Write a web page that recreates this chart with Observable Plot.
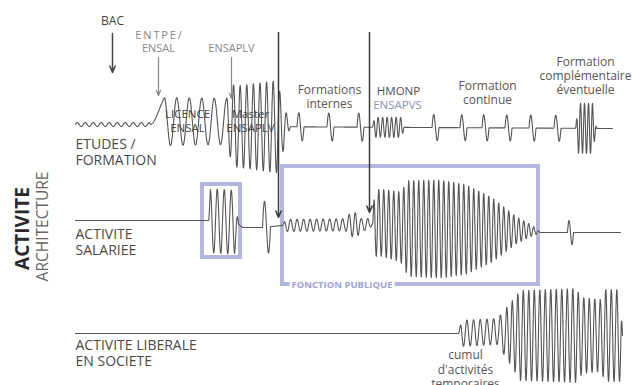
<!DOCTYPE html>
<html><head><meta charset="utf-8">
<script src="https://cdn.jsdelivr.net/npm/d3@7"></script>
<script src="https://cdn.jsdelivr.net/npm/@observablehq/plot@0.6"></script>
<style>body{margin:0;background:#fff}</style>
</head><body><div id="chart"></div>
<script>
// ---- Row titles: [text, x, capTop]
const rowLabels = [
  ["ETUDES /\nFORMATION", 75, 137],
  ["ACTIVITE\nSALARIEE", 75, 227],
  ["ACTIVITE LIBERALE\nEN SOCIETE", 75, 338]
];
// ---- Baselines of the three traces: [x, y]
const baseEtudes   = [[75,124],[150,124],[164,121],[226,121],[236,126],[612,128]];
const baseSalariee = [[75,220],[208,220],[236,222],[242,227],[262,227],[282,225],[370,224],[380,222],[408,228],[530,230],[540,232],[620,232]];
const baseLiberale = [[75,333],[458,333],[497,331],[520,335],[622,335]];
// ---- Oscillation envelopes: [x, amplitude, period]
const envEtudes = [[75,2,8],[149,2,8],[150,0,52],[164,24,12.5],[226,23,7],[232,40,6.6],[276,46,6.6],[290,0,8],
  [372,0,4.5],[374,10,4.5],[401,10,4.5],[404,0,4],[575,0,4],[578,25,4],[592,25,4],[596,0,10],[612,0,10]];
const envSalariee = [[75,0,7],[208,0,7],[210,32,7],[234,32,7],[238,0,10],[282,0,6.5],[285,6,6.5],[345,6,6.5],
  [350,12,6],[357,12,6],[360,6,6.5],[368,6,6.5],[372,0,5],[374,33,5],[400,35,5],[408,48,5],[440,49,5],
  [465,45,5],[492,32,5],[515,14,5],[532,5,5],[540,0,5],[620,0,5]];
const envLiberale = [[75,0,6.7],[458,0,6.7],[461,13,6.7],[497,13,6.7],[505,24,5.5],[520,45,5.5],[575,47,5.5],
  [582,38,5.5],[600,36,5.5],[605,46,5.5],[620,46,5.5],[622,0,5]];
// ---- Isolated spikes: [x, amplitude, width]
const spikesEtudes = [[300,14,7],[330,14,7],[360,14,7],[435,13,7],[463,13,7],[485,13,7],[508,13,7],[532,13,7],[557,13,7]];
const spikesSalariee = [[266,26,8],[570,12,6]];
const spikesLiberale = [];
// ---- Boxes: [x1, x2, y1, y2]
const boxes = [[202,240,184,257],[282,538,166,284]];
const boxLabel = [["FONCTION PUBLIQUE", 291, 284]];
// ---- Arrows: [x, yFrom, yTo]
const bacArrow = [[112,33,72]];
const schoolArrows = [[158,57,95],[231,57,98]];
const longArrows = [[278,32,217],[369,32,212]];
// ---- Annotations: [text, x, capTop]
const bacLabel = [["BAC",112,16]];
const schoolLabels = [["E\u2009N\u2009T\u2009P\u2009E\u2009/\nENSAL",158,29],["ENSAPLV",231,42]];
const stageLabels = [["LICENCE\nENSAL",187,108],["Master\nENSAPLV",250,108]];
const formationLabels = [["Formations\ninternes",329,83],["Formation\ncontinue",487,79],["Formation\ncomplémentaire\néventuelle",585,55]];
const hmonpLabel = [["HMONP",398,86]];
const ensapvsLabel = [["ENSAPVS",397,100]];
const cumulLabel = [["cumul\nd'activités\ntemporaires",465,349]];
const sideTitle = [["ACTIVITE",22,228]];
const sideSub = [["ARCHITECTURE",42.5,226]];

function lerpPts(pts, x) {
  if (x <= pts[0][0]) return pts[0][1];
  for (let i = 0; i < pts.length - 1; i++) {
    const a = pts[i], b = pts[i+1];
    if (x <= b[0]) return a[1] + (b[1]-a[1]) * (x-a[0]) / (b[0]-a[0]);
  }
  return pts[pts.length-1][1];
}
function trace(row, base, env, spikes) {
  const out = [];
  const xa = base[0][0], xb = base[base.length-1][0];
  const step = 0.2;
  let phase = 0, seg = -1;
  for (let x = xa; x <= xb + 1e-9; x += step) {
    let j = -1;
    for (let i = 0; i < env.length - 1; i++) if (x >= env[i][0] && x < env[i+1][0]) { j = i; break; }
    let amp = 0;
    if (j >= 0) {
      if (j !== seg && env[j][1] === 0) phase = 0;
      seg = j;
      const a = env[j], b = env[j+1];
      amp = a[1] + (b[1]-a[1]) * (x-a[0]) / (b[0]-a[0]);
      phase += 2*Math.PI*step / a[2];
    }
    let y = lerpPts(base, x) - amp*Math.sin(phase);
    for (const [xs, A, w] of spikes) {
      if (x > xs - w/2 && x < xs + w/2) y -= A*Math.sin(2*Math.PI*(x - xs + w/2)/w);
    }
    out.push({row, x, y});
  }
  return out;
}
const traces = [
  ...trace("etudes", baseEtudes, envEtudes, spikesEtudes),
  ...trace("salariee", baseSalariee, envSalariee, spikesSalariee),
  ...trace("liberale", baseLiberale, envLiberale, spikesLiberale)
];

const txt = (data, o) => Plot.text(data, {text: d=>d[0], x: d=>d[1], y: d=>d[2], lineAnchor: "top", ...o});
const arr = (data, o) => Plot.arrow(data, {x1: d=>d[0], x2: d=>d[0], y1: d=>d[1], y2: d=>d[2], headLength: 7, headAngle: 45, ...o});

const chart = Plot.plot({
  width: 632, height: 385, margin: 0,
  x: {domain: [0,632], range: [0,632], axis: null},
  y: {domain: [0,385], range: [0,385], axis: null},
  style: {fontFamily: "'Open Sans', sans-serif", background: "#fff"},
  marks: [
    Plot.rect(boxes, {x1: d=>d[0], x2: d=>d[1], y1: d=>d[2], y2: d=>d[3], fill: "none", stroke: "#b3b6df", strokeWidth: 4}),
    Plot.line(traces, {x: "x", y: "y", z: "row", stroke: "#555", strokeWidth: 1.1, curve: "linear"}),
    txt(boxLabel, {textAnchor: "start", lineAnchor: "middle", fontSize: 9.5, fontWeight: "bold", fill: "#9ea3d6", stroke: "#fff", strokeWidth: 5}),
    arr(bacArrow, {stroke: "#444", strokeWidth: 1.5}),
    arr(schoolArrows, {stroke: "#888", strokeWidth: 1.2}),
    arr(longArrows, {stroke: "#3a3a3a", strokeWidth: 1.5}),
    txt(rowLabels, {textAnchor: "start", fontSize: 14, fill: "#4a4a4a", lineHeight: 1.15}),
    txt(bacLabel, {fontSize: 12, fill: "#444"}),
    txt(schoolLabels, {fontSize: 11, fill: "#888", lineHeight: 1.2}),
    txt(stageLabels, {fontSize: 11.5, fill: "#444", lineHeight: 1.22}),
    txt(formationLabels, {fontSize: 12, fill: "#5c5550", lineHeight: 1.18}),
    txt(hmonpLabel, {fontSize: 11.5, fill: "#4f5060"}),
    txt(ensapvsLabel, {fontSize: 11.5, fill: "#8c92b8"}),
    txt(cumulLabel, {fontSize: 12, fill: "#555", lineHeight: 1.17}),
    txt(sideTitle, {rotate: -90, lineAnchor: "middle", fontSize: 19, fontWeight: "bold", fill: "#2a2a2a"}),
    txt(sideSub, {rotate: -90, lineAnchor: "middle", fontSize: 15.5, fill: "#666"})
  ]
});
document.getElementById("chart").append(chart);
</script>
</body></html>
